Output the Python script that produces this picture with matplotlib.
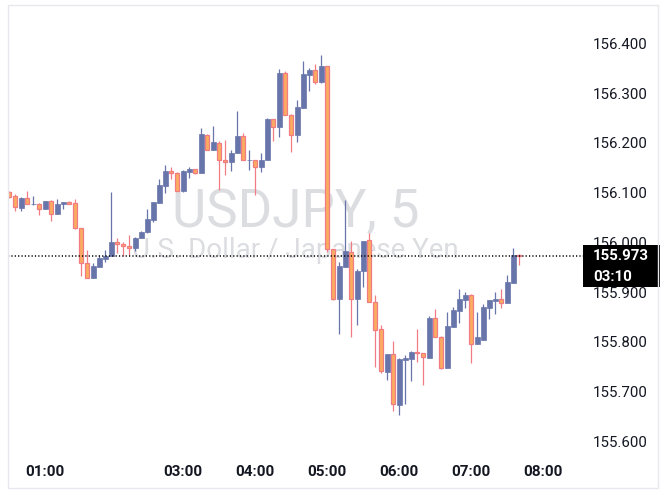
import numpy as np
import matplotlib
matplotlib.use("Agg")
import matplotlib.pyplot as plt
from matplotlib.patches import Rectangle

# ---- data (USDJPY, 5-minute bars) ----
opens = [156.102, 156.094, 156.070, 156.089, 156.077, 156.077, 156.067, 156.083, 156.058, 156.077,
         156.081, 156.079, 156.030, 155.958, 155.929, 155.951, 155.967, 155.972, 156.001, 155.997,
         155.992, 155.988, 156.010, 156.021, 156.046, 156.080, 156.114, 156.144, 156.140, 156.103,
         156.142, 156.147, 156.140, 156.217, 156.185, 156.201, 156.165, 156.161, 156.179, 156.214,
         156.165, 156.165, 156.151, 156.165, 156.248, 156.233, 156.341, 156.256, 156.217, 156.271,
         156.337, 156.346, 156.323, 156.354, 155.986, 155.886, 155.951, 155.981, 155.886, 155.943,
         156.005, 155.880, 155.826, 155.740, 155.776, 155.674, 155.764, 155.766, 155.780, 155.777,
         155.768, 155.848, 155.811, 155.748, 155.831, 155.863, 155.885, 155.894, 155.795, 155.804,
         155.869, 155.883, 155.886, 155.879, 155.919, 155.975]
highs = [156.103, 156.098, 156.092, 156.103, 156.094, 156.080, 156.084, 156.085, 156.087, 156.081,
         156.083, 156.087, 156.030, 155.985, 155.959, 155.975, 155.985, 156.102, 156.009, 156.001,
         156.016, 156.012, 156.024, 156.068, 156.081, 156.128, 156.156, 156.152, 156.142, 156.146,
         156.152, 156.148, 156.230, 156.218, 156.234, 156.205, 156.206, 156.185, 156.264, 156.220,
         156.186, 156.166, 156.180, 156.250, 156.249, 156.349, 156.345, 156.258, 156.286, 156.365,
         156.351, 156.359, 156.377, 156.355, 155.986, 155.961, 156.085, 156.002, 155.946, 156.004,
         156.020, 155.894, 155.834, 155.776, 155.802, 155.768, 155.774, 155.781, 155.826, 155.778,
         155.852, 155.866, 155.812, 155.860, 155.870, 155.907, 155.900, 155.896, 155.860, 155.876,
         155.885, 155.900, 155.907, 155.935, 155.989, 155.976]
lows = [156.089, 156.063, 156.063, 156.077, 156.076, 156.056, 156.067, 156.044, 156.058, 156.068,
        156.078, 156.028, 155.933, 155.929, 155.929, 155.951, 155.961, 155.972, 155.979, 155.972,
        155.975, 155.982, 156.010, 156.020, 156.041, 156.079, 156.100, 156.128, 156.103, 156.102,
        156.130, 156.138, 156.140, 156.185, 156.185, 156.106, 156.135, 156.143, 156.179, 156.165,
        156.145, 156.095, 156.142, 156.165, 156.205, 156.213, 156.256, 156.181, 156.203, 156.271,
        156.305, 156.318, 156.321, 155.980, 155.885, 155.816, 155.951, 155.811, 155.834, 155.910,
        155.880, 155.750, 155.738, 155.724, 155.662, 155.653, 155.676, 155.722, 155.760, 155.714,
        155.768, 155.810, 155.745, 155.748, 155.831, 155.838, 155.869, 155.758, 155.795, 155.804,
        155.846, 155.856, 155.869, 155.879, 155.919, 155.955]
closes = [156.092, 156.071, 156.089, 156.077, 156.078, 156.067, 156.083, 156.058, 156.077, 156.081,
          156.078, 156.030, 155.958, 155.929, 155.953, 155.968, 155.972, 156.001, 155.996, 155.992,
          155.988, 156.010, 156.022, 156.047, 156.081, 156.116, 156.144, 156.139, 156.103, 156.144,
          156.148, 156.140, 156.218, 156.185, 156.202, 156.165, 156.161, 156.180, 156.214, 156.165,
          156.166, 156.151, 156.166, 156.248, 156.232, 156.341, 156.256, 156.217, 156.272, 156.339,
          156.347, 156.323, 156.355, 155.986, 155.886, 155.953, 155.982, 155.886, 155.943, 156.004,
          155.880, 155.825, 155.741, 155.776, 155.675, 155.766, 155.768, 155.780, 155.778, 155.769,
          155.849, 155.811, 155.748, 155.832, 155.864, 155.886, 155.894, 155.795, 155.810, 155.870,
          155.884, 155.886, 155.879, 155.921, 155.975, 155.973]

tick_bars = [6, 29, 41, 53, 65, 77, 89]
tick_labels = ["01:00", "03:00", "04:00", "05:00", "06:00", "07:00", "08:00"]
price_ticks = [155.6, 155.7, 155.8, 155.9, 156.0, 156.1, 156.2, 156.3, 156.4]
symbol_title = "USDJPY, 5"
symbol_desc = "U.S. Dollar / Japanese Yen"
countdown = "03:10"

# ---- styling ----
UP = "#6875aa"
DOWN_FILL = "#fbac5f"
DOWN_EDGE = "#f27c84"
TXT = "#131722"
W, H = 670, 499

plt.rcParams["font.family"] = ["Roboto", "DejaVu Sans"]

fig = plt.figure(figsize=(W / 100, H / 100), dpi=100)
fig.patch.set_facecolor("white")
ax = fig.add_axes([8 / W, (H - 458) / H, 575 / W, 453 / H])
ax.set_facecolor("white")

o = np.array(opens); h = np.array(highs); l = np.array(lows); c = np.array(closes)
x = np.arange(len(o))
up = c >= o
bottom = np.minimum(o, c)
height = np.maximum(np.abs(c - o), 0.0012)

ax.vlines(x[up], l[up], h[up], color=UP, lw=0.9, zorder=2)
ax.vlines(x[~up], l[~up], h[~up], color=DOWN_EDGE, lw=0.9, zorder=2)
ax.bar(x[up], height[up], bottom=bottom[up], width=0.74, color=UP,
       edgecolor=UP, linewidth=0.5, zorder=3)
ax.bar(x[~up], height[~up], bottom=bottom[~up], width=0.68, color=DOWN_FILL,
       edgecolor=DOWN_EDGE, linewidth=0.9, zorder=3)

last_close = closes[-1]
ax.axhline(last_close, color="black", lw=1.1, linestyle=(0, (0.8, 1.4)), zorder=4)

ax.set_xlim(-0.217, 95.62)
ax.set_ylim(155.5668, 156.4774)

for s in ax.spines.values():
    s.set_visible(False)

ax.yaxis.tick_right()
ax.set_yticks(price_ticks, [f"{p:.3f}" for p in price_ticks])
ax.tick_params(axis="y", length=0, pad=7.2, labelsize=10.8, labelcolor=TXT)
ax.set_xticks(tick_bars, tick_labels)
ax.tick_params(axis="x", length=0, pad=5, labelsize=11, labelcolor=TXT)
for t in ax.get_xticklabels():
    t.set_fontweight("bold")

# watermark
ax.text(0.5, 0.512, symbol_title, transform=ax.transAxes, ha="center", va="baseline",
        fontsize=38, color="#dcdde1", zorder=1,
        family=["Liberation Sans Narrow", "Roboto", "DejaVu Sans"])
ax.text(0.5, 0.442, symbol_desc, transform=ax.transAxes, ha="center", va="baseline",
        fontsize=20, color="#dcdde1", zorder=1, family=["Roboto", "DejaVu Sans"])

# last price label box
yc = ax.transData.transform((0, last_close))[1]
fig.add_artist(Rectangle((583 / W, (yc - 31) / H), 77 / W, 42 / H, transform=fig.transFigure,
                         facecolor="black", edgecolor="none", zorder=5))
fig.text(593 / W, yc / H, f"{last_close:.3f}", color="white", fontweight="bold",
         fontsize=10.8, ha="left", va="center", zorder=6)
fig.text(593 / W, (yc - 21) / H, countdown, color="white", fontweight="bold",
         fontsize=10.8, ha="left", va="center", zorder=6)

# outer frame
fig.add_artist(Rectangle((8 / W, (H - 488) / H), 650 / W, 483 / H, transform=fig.transFigure,
                         fill=False, edgecolor="#e6e8ee", lw=1.0, zorder=7))

fig.savefig("out.png", dpi=100)
